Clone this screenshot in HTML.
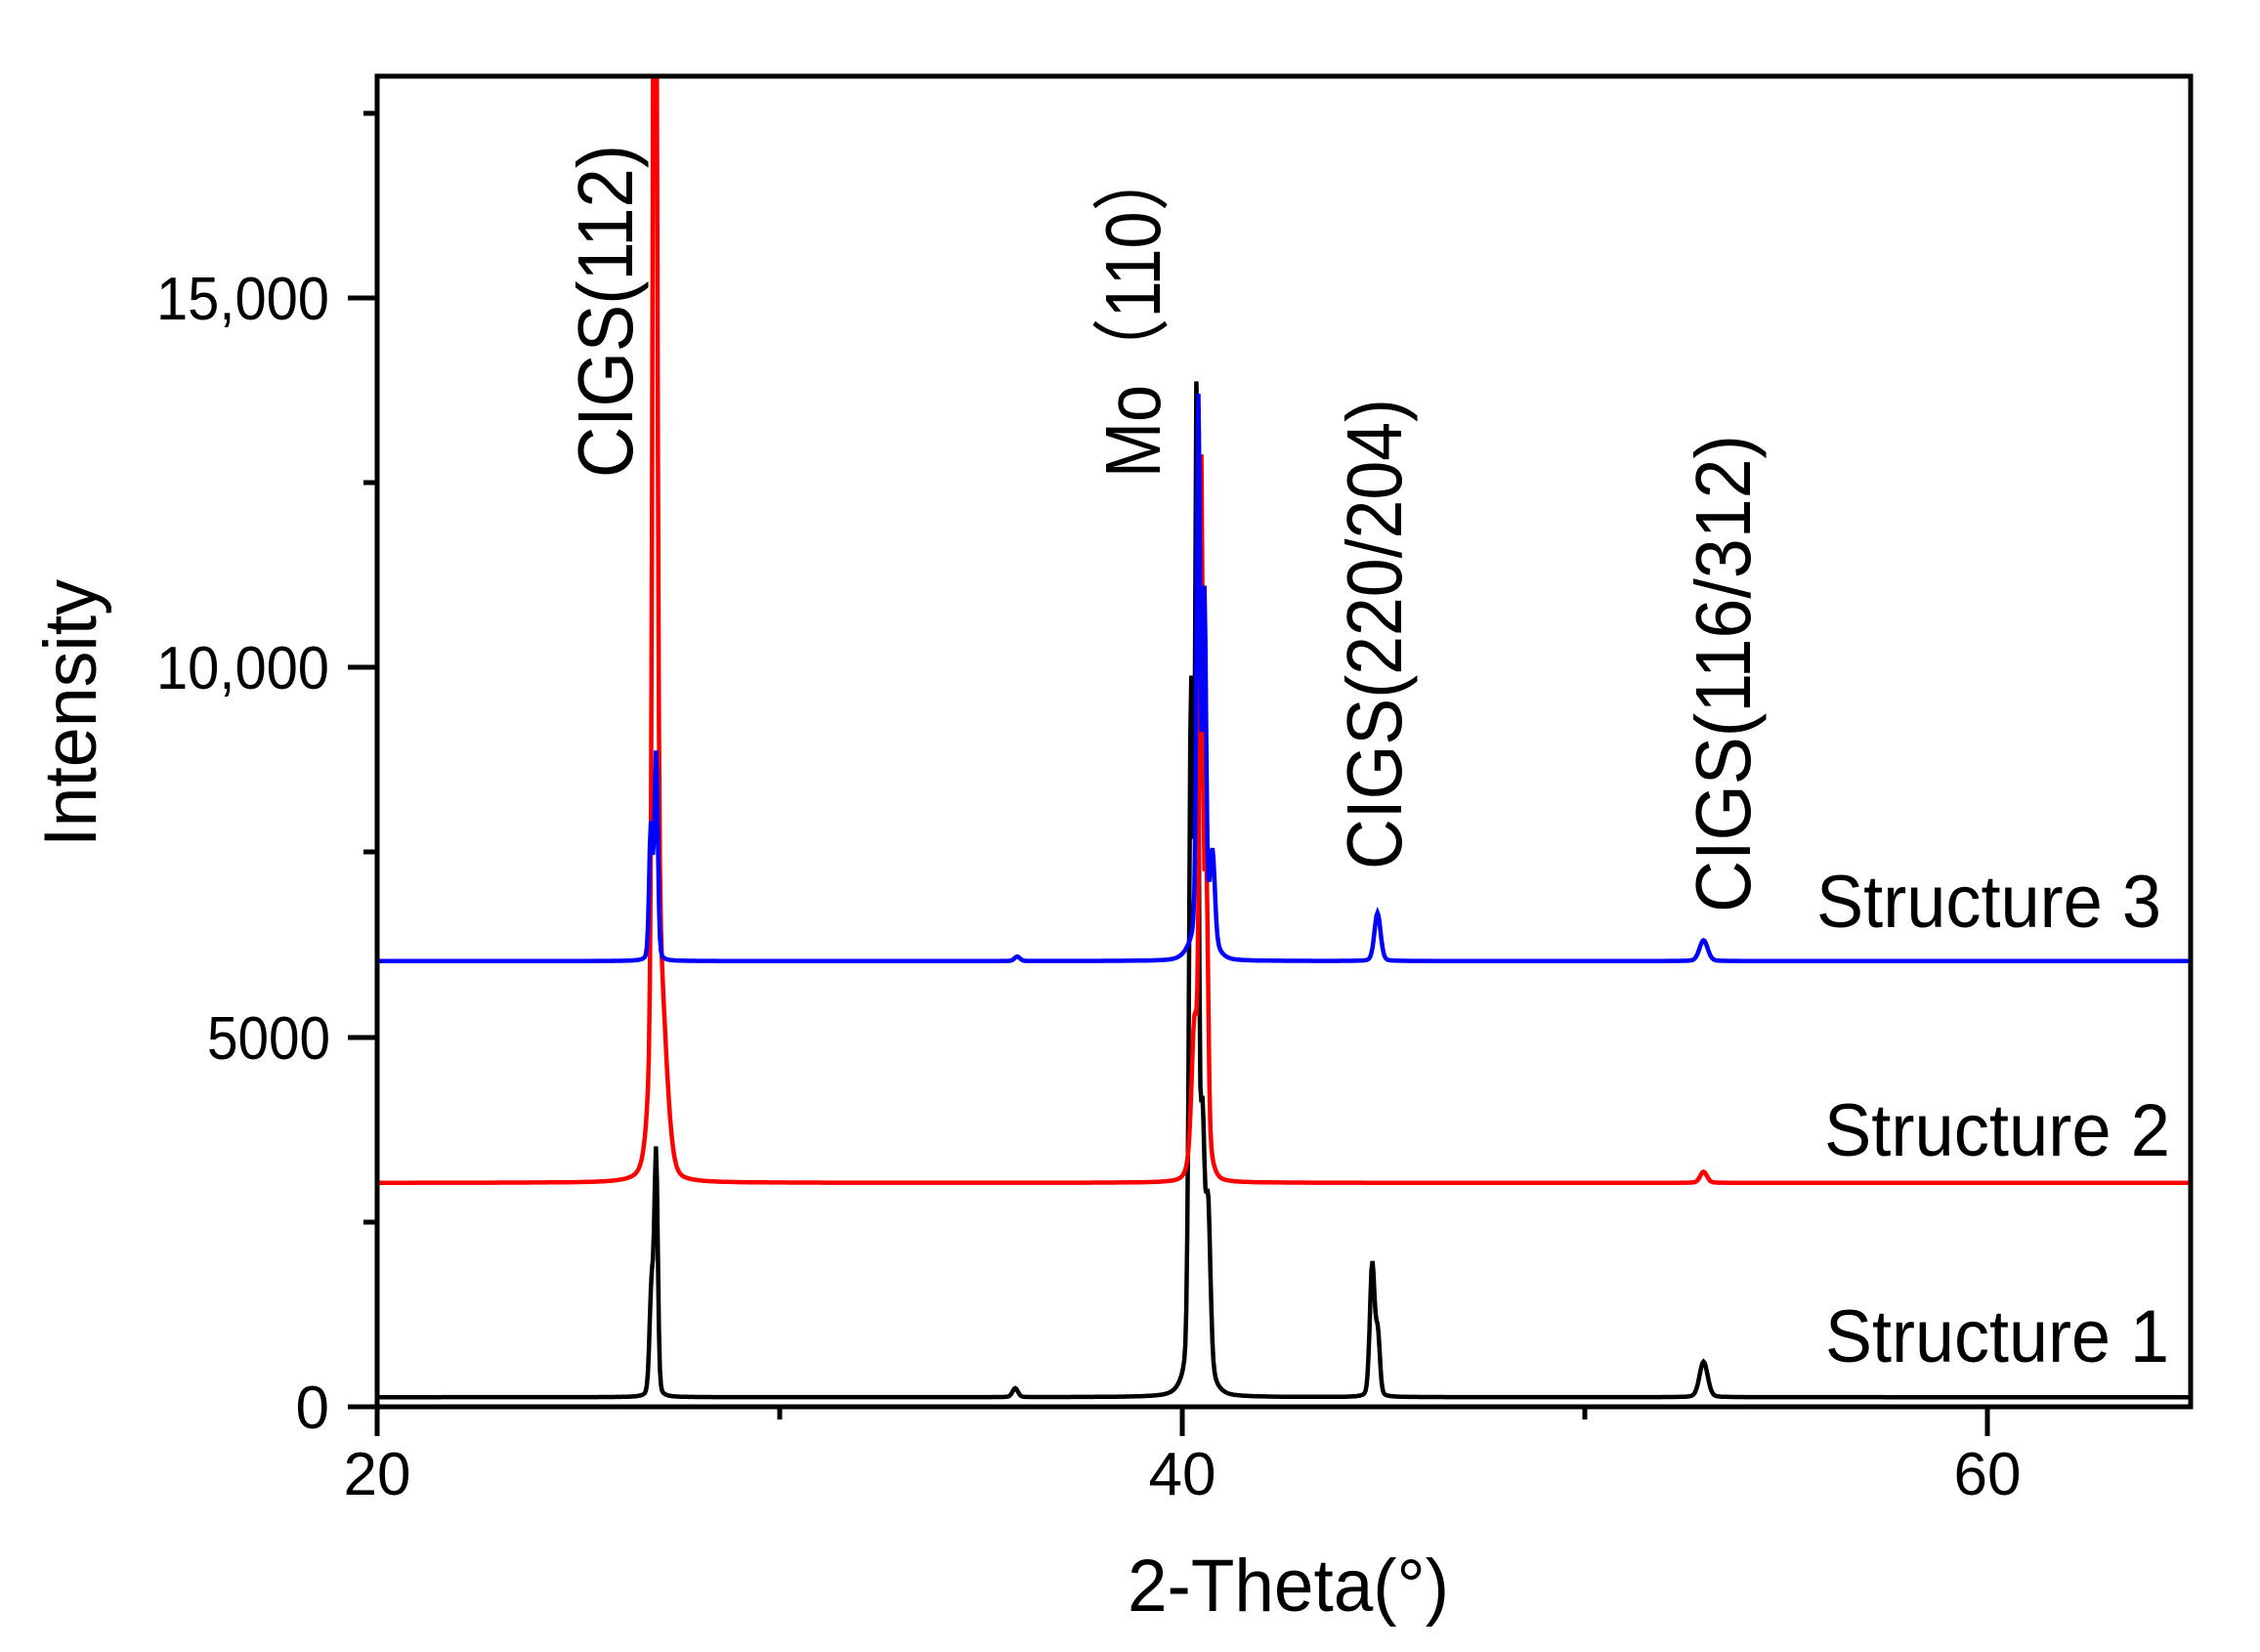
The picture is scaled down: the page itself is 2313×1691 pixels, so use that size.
<!DOCTYPE html>
<html><head><meta charset="utf-8"><style>
html,body{margin:0;padding:0;background:#fff;}
svg{display:block;}
text{font-family:"Liberation Sans",Arial,sans-serif;fill:#000;}
</style></head><body>
<svg id="s" width="2313" height="1691" viewBox="0 0 2313 1691" xmlns="http://www.w3.org/2000/svg">
<defs><clipPath id="c"><rect x="386" y="78" width="1856" height="1362"/></clipPath></defs>
<rect width="2313" height="1691" fill="#fff"/>
<g id="series" clip-path="url(#c)" fill="none" stroke-width="4.5" stroke-linejoin="miter"></g>
<rect x="386" y="78" width="1856" height="1362" fill="none" stroke="#000" stroke-width="5"/>
<g stroke="#000" stroke-width="5">
<line x1="386" y1="1440" x2="386" y2="1470"/>
<line x1="1210" y1="1440" x2="1210" y2="1470"/>
<line x1="2034" y1="1440" x2="2034" y2="1470"/>
<line x1="798" y1="1440" x2="798" y2="1453"/>
<line x1="1622" y1="1440" x2="1622" y2="1453"/>
<line x1="356" y1="1440" x2="386" y2="1440"/>
<line x1="356" y1="1062" x2="386" y2="1062"/>
<line x1="356" y1="683" x2="386" y2="683"/>
<line x1="356" y1="305" x2="386" y2="305"/>
<line x1="372" y1="1251" x2="386" y2="1251"/>
<line x1="372" y1="872" x2="386" y2="872"/>
<line x1="372" y1="494" x2="386" y2="494"/>
<line x1="372" y1="116" x2="386" y2="116"/>
</g>
<g font-size="62" text-anchor="end">
<text x="337" y="1462">0</text>
<text x="338" y="1084" textLength="126" lengthAdjust="spacingAndGlyphs">5000</text>
<text x="337" y="705" textLength="177" lengthAdjust="spacingAndGlyphs">10,000</text>
<text x="337" y="327" textLength="177" lengthAdjust="spacingAndGlyphs">15,000</text>
</g>
<g font-size="62" text-anchor="middle">
<text x="386" y="1530">20</text>
<text x="1210" y="1530">40</text>
<text x="2034" y="1530">60</text>
</g>
<text x="1154" y="1649" font-size="76" textLength="329" lengthAdjust="spacingAndGlyphs">2-Theta(°)</text>
<text transform="translate(98,867) rotate(-90)" font-size="76" textLength="274" lengthAdjust="spacingAndGlyphs">Intensity</text>
<g font-size="80">
<text transform="translate(647,489) rotate(-90)" textLength="341" lengthAdjust="spacingAndGlyphs">CIGS(112)</text>
<text transform="translate(1187,489) rotate(-90)" textLength="341" lengthAdjust="spacingAndGlyphs">Mo（110）</text>
<text transform="translate(1434,890) rotate(-90)" textLength="482" lengthAdjust="spacingAndGlyphs">CIGS(220/204)</text>
<text transform="translate(1791,934) rotate(-90)" textLength="489" lengthAdjust="spacingAndGlyphs">CIGS(116/312)</text>
</g>
<g font-size="76">
<text x="1859" y="949" textLength="353" lengthAdjust="spacingAndGlyphs">Structure 3</text>
<text x="1867" y="1183" textLength="354" lengthAdjust="spacingAndGlyphs">Structure 2</text>
<text x="1868" y="1394" textLength="352" lengthAdjust="spacingAndGlyphs">Structure 1</text>
</g>
</svg>
<script>
(function(){
var X=function(v){return 386+(v-20)*41.2;};
var Y=function(v){return 1440-v*1362/18000;};
function F(x,c,h,w){var d=(x-c)/w;return h*(0.8*Math.exp(-0.693*d*d)+0.2/(1+d*d));}
var S=[
 {col:"#000",base:130,p:[[26.82,1500,.06],[26.93,3200,.05],[40.22,9000,.06],[40.36,12900,.05],[40.5,3000,.06],[40.64,2200,.07],[40.4,500,.3],[44.72,1800,.07],[44.86,800,.06],[52.95,480,.12],[35.85,120,.08]]},
 {col:"#f00",base:3030,p:[[26.9,20000,.06],[27.0,2800,.2],[40.47,8800,.05],[40.6,3500,.05],[40.3,1500,.08],[40.45,900,.2],[52.95,150,.1]]},
 {col:"#00f",base:6030,p:[[26.8,1800,.05],[26.93,2800,.05],[40.4,7200,.05],[40.55,4500,.05],[40.75,1200,.07],[40.5,400,.3],[44.85,650,.09],[52.95,280,.12],[35.9,60,.08]]}
];
var g=document.getElementById("series");
S.forEach(function(s){
 var d="",first=true;
 for(var x=20;x<=65.01;x+=0.025){
  var v=s.base;
  s.p.forEach(function(q){v+=F(x,q[0],q[1],q[2]);});
  var px=X(x).toFixed(1),py=Y(v).toFixed(1);
  d+=(first?"M":"L")+px+","+py;first=false;
 }
 var p=document.createElementNS("http://www.w3.org/2000/svg","path");
 p.setAttribute("d",d);p.setAttribute("stroke",s.col);
 g.appendChild(p);
});
})();
</script>
</body></html>
